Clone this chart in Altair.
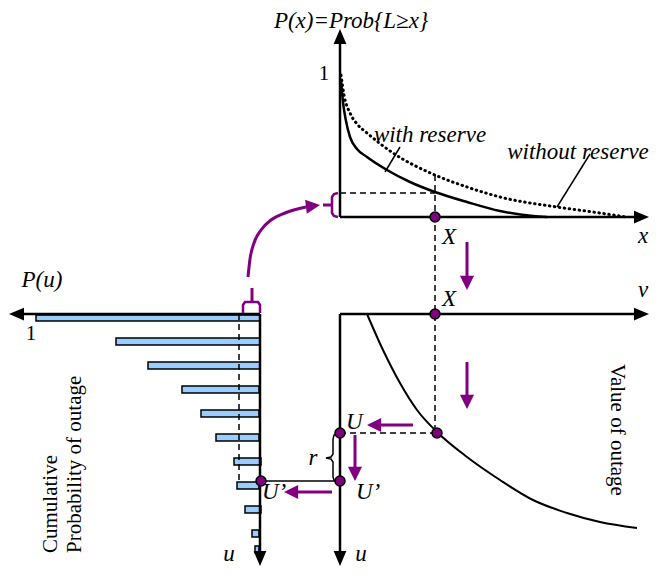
import altair as alt
import pandas as pd

PURPLE = "#800080"
BLUE = "#99CCFF"
SERIF = "Liberation Serif"

# ---- cumulative probability bars P(u) (grow leftwards from the u axis) ----
bar_top = [315, 338, 362, 386, 410, 434, 458, 482, 506, 530, 546]
bar_bottom = [321, 345, 369, 393, 417, 441, 465, 489, 513, 537, 553]
bar_left = [36, 116, 148, 182, 201, 216, 234, 237, 245, 252, 255]
bar_right = [260, 260, 260, 259, 259, 259, 261, 259, 261, 259, 259]

# ---- load-duration curves (top panel) ----
with_x = [341, 343, 346, 350, 357, 367, 387, 410, 435, 467, 500, 533, 547]
with_y = [80, 102, 121, 137, 149, 157, 170, 182, 192, 202, 211, 216, 217]
without_x = [341, 344, 350, 358, 367, 393, 435, 467, 500, 557, 600, 626]
without_y = [75, 95, 113, 125, 133, 153, 175, 187, 197, 207, 213, 217]

# ---- value of outage curve (lower right panel) ----
value_x = [367, 383, 400, 417, 437, 467, 500, 533, 567, 600, 637]
value_y = [314, 350, 383, 410, 432, 457, 480, 500, 513, 522, 528]

# ---- axes (x1, y1, x2, y2) ----
axes_seg = [
    (340, 217, 340, 33), (340, 217, 637, 217),
    (260, 314, 20, 314), (260, 314, 260, 553),
    (340, 314, 340, 553), (340, 314, 637, 314),
]
thin_seg = [(261, 481, 340, 481), (400, 147, 385, 172), (590, 154, 557, 207)]
dash_seg = [(340, 193, 435, 193), (435, 175, 435, 433),
            (340, 433, 437, 433), (239, 314, 239, 482)]
purple_seg = [(467, 242, 467, 278), (467, 362, 467, 396),
              (413, 425, 380, 425), (355, 435, 355, 468),
              (332, 492, 297, 492), (323, 205, 332, 205), (252, 288, 252, 302)]

# arrow heads: tip x, tip y, direction angle (0 = right, clockwise)
axis_heads = [(340, 29, 270), (649, 217, 0), (9, 314, 180),
              (260, 566, 90), (340, 566, 90), (649, 314, 0)]
purple_heads = [(467, 290, 90), (467, 409, 90), (367, 425, 180),
                (355, 481, 90), (284, 492, 180), (320, 205, 353)]

# purple points
dot_x = [435, 435, 437, 340, 340, 261]
dot_y = [217, 314, 433, 433, 481, 481]

# brackets
brk_top_x = [338, 334, 332, 332, 334, 338]
brk_top_y = [193, 194, 197, 213, 216, 217]
brk_bot_x = [243, 243, 245, 258, 260, 260]
brk_bot_y = [313, 305, 302, 302, 305, 313]
brace_x = [338, 334, 333, 333, 331, 326, 331, 333, 333, 334, 338]
brace_y = [433, 435, 439, 454, 457, 458, 459, 462, 477, 480, 481]
arc_x = [248, 250, 254, 261, 271, 285, 306]
arc_y = [277, 259, 243, 230, 220, 213, 207]

X = alt.X("x:Q", scale=alt.Scale(domain=[8, 650], nice=False, zero=False), axis=None)
Y = alt.Y("y:Q", scale=alt.Scale(domain=[8, 567], nice=False, zero=False, reverse=True), axis=None)


def seg_df(segs):
    return pd.DataFrame(segs, columns=["x", "y", "x2", "y2"])


def rules(segs, **kw):
    return alt.Chart(seg_df(segs)).mark_rule(**kw).encode(
        x=X, y=Y, x2="x2:Q", y2="y2:Q")


def path(xs, ys, interp="linear", **kw):
    df = pd.DataFrame({"x": xs, "y": ys, "i": range(len(xs))})
    return alt.Chart(df).mark_line(interpolate=interp, **kw).encode(
        x=X, y=Y, order="i:Q")


HEAD = "M0,0L-2,-0.85L-2,0.85Z"
PHEAD = "M0,0L-2,-1L-2,1Z"


def heads(items, shape, color, size):
    df = pd.DataFrame(items, columns=["x", "y", "a"])
    return alt.Chart(df).mark_point(shape=shape, filled=True, color=color,
                                    size=size, opacity=1).encode(
        x=X, y=Y, angle=alt.Angle("a:Q", scale=None))


bars = alt.Chart(pd.DataFrame({"x": bar_left, "x2": bar_right,
                               "y": bar_top, "y2": bar_bottom})).mark_rect(
    fill=BLUE, stroke="black", strokeWidth=1.5).encode(
    x=X, x2="x2:Q", y=Y, y2="y2:Q")

dots = alt.Chart(pd.DataFrame({"x": dot_x, "y": dot_y})).mark_point(
    shape="circle", filled=True, fill=PURPLE, stroke="black", strokeWidth=1.5,
    size=100, opacity=1).encode(x=X, y=Y)


def texts(rows, **kw):
    df = pd.DataFrame(rows, columns=["x", "y", "t"])
    return alt.Chart(df).mark_text(font=SERIF, color="black",
                                   baseline="alphabetic", **kw).encode(
        x=X, y=Y, text="t:N")


ital_center = [
    (351, 28, "P(x)=Prob{L≥x}"), (430, 142, "with reserve"),
    (578, 159, "without reserve"), (643, 243, "x"), (643, 297, "v"),
    (42, 287, "P(u)"), (313, 465, "r"), (229, 561, "u"), (361, 561, "u"),
]
ital_left = [(442, 244, "X"), (442, 306, "X"), (346, 429, "U"),
             (356, 499, "U’"), (262, 499, "U’")]
reg_center = [(324, 80, "1"), (31, 340, "1")]

chart = alt.layer(
    bars,
    rules(dash_seg, strokeDash=[6, 4], strokeWidth=1.5, color="black"),
    rules(thin_seg, strokeWidth=1.5, color="black"),
    rules(axes_seg, strokeWidth=2.5, color="black"),
    path(with_x, with_y, "monotone", color="black", strokeWidth=2.5),
    path(without_x, without_y, "monotone", color="black", strokeWidth=3,
         strokeDash=[0.5, 4.5], strokeCap="round"),
    path(value_x, value_y, "monotone", color="black", strokeWidth=2),
    path(brk_top_x, brk_top_y, color=PURPLE, strokeWidth=2.5),
    path(brk_bot_x, brk_bot_y, color=PURPLE, strokeWidth=2.5),
    path(brace_x, brace_y, color="black", strokeWidth=1.5),
    path(arc_x, arc_y, "monotone", color=PURPLE, strokeWidth=3),
    rules(purple_seg, strokeWidth=3, color=PURPLE),
    heads(axis_heads, HEAD, "black", 225),
    heads(purple_heads, PHEAD, PURPLE, 200),
    dots,
    texts(ital_center, fontSize=23, fontStyle="italic", align="center"),
    texts(ital_left, fontSize=23, fontStyle="italic", align="left"),
    texts(reg_center, fontSize=21, align="center"),
    texts([(611, 430, "Value of outage")], fontSize=21, angle=90, align="center"),
    texts([(57, 553, "Cumulative"), (81, 553, "Probability of outage")],
          fontSize=21, angle=270, align="left"),
).properties(width=642, height=559, padding=0, autosize="none",
             background="white").configure_view(strokeWidth=0)

chart.save("out.html", embed_options={"renderer": "svg", "actions": False})
